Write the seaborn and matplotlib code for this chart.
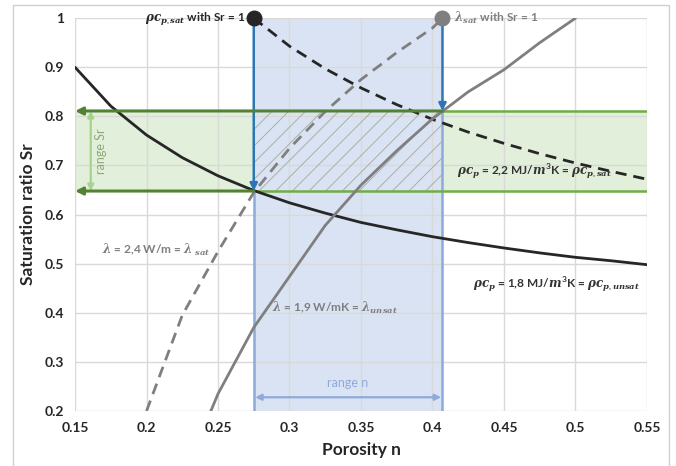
import numpy as np
import pandas as pd
import seaborn as sns
import matplotlib.pyplot as plt
from matplotlib.patches import Rectangle

# porosity grid and read-off curves
n_rho = [0.15, 0.175, 0.2, 0.225, 0.25, 0.275, 0.3, 0.325, 0.35, 0.375,
         0.4, 0.425, 0.45, 0.475, 0.5, 0.525, 0.55]
sr_rho_unsat = [0.900, 0.821, 0.762, 0.716, 0.679, 0.649, 0.624, 0.603, 0.584,
                0.569, 0.555, 0.543, 0.532, 0.522, 0.513, 0.506, 0.498]
n_rho_sat = [0.275, 0.3, 0.325, 0.35, 0.375, 0.4, 0.425, 0.45, 0.475, 0.5, 0.525, 0.55]
sr_rho_sat = [1.0, 0.943, 0.897, 0.858, 0.824, 0.794, 0.768, 0.745, 0.724,
              0.705, 0.688, 0.672]
n_lam_sat = [0.2, 0.225, 0.25, 0.275, 0.3, 0.325, 0.35, 0.375, 0.4, 0.407]
sr_lam_sat = [0.2, 0.395, 0.525, 0.645, 0.735, 0.81, 0.875, 0.93, 0.98, 1.0]
n_lam_unsat = [0.245, 0.25, 0.275, 0.3, 0.325, 0.35, 0.375, 0.4, 0.425, 0.45, 0.475, 0.5]
sr_lam_unsat = [0.2, 0.235, 0.37, 0.474, 0.578, 0.66, 0.73, 0.795, 0.85, 0.895, 0.95, 1.0]

n_range = [0.275, 0.407]
sr_range = [0.648, 0.811]

x_ticks = [0.15, 0.2, 0.25, 0.3, 0.35, 0.4, 0.45, 0.5, 0.55]
x_labels = ["0.15", "0.2", "0.25", "0.3", "0.35", "0.4", "0.45", "0.5", "0.55"]
y_ticks = [0.2, 0.3, 0.4, 0.5, 0.6, 0.7, 0.8, 0.9, 1.0]
y_labels = ["0.2", "0.3", "0.4", "0.5", "0.6", "0.7", "0.8", "0.9", "1"]

sns.set_theme(style="whitegrid")
plt.rcParams['font.family'] = ['Lato', 'DejaVu Sans']
plt.rcParams['mathtext.fontset'] = 'custom'
plt.rcParams['mathtext.it'] = 'DejaVu Serif:italic:bold'
plt.rcParams['mathtext.rm'] = 'Lato:bold'
plt.rcParams['mathtext.bf'] = 'DejaVu Serif:bold'
plt.rcParams['hatch.linewidth'] = 0.7

DARK = '#262626'
GREY = '#7f7f7f'
BLUE = '#2e75b6'
LBLUE = '#8eaadb'
DGREEN = '#548235'
MGREEN = '#70ad47'
LGREEN = '#a9d18e'

fig = plt.figure(figsize=(6.76, 4.66), dpi=100)
ax = fig.add_axes([0.111, 0.118, 0.846, 0.843])

# shaded ranges
ax.axhspan(sr_range[0], sr_range[1], color='#e2efda', zorder=0)
ax.axvspan(n_range[0], n_range[1], color='#dae3f3', zorder=0.5)
ax.add_patch(Rectangle((n_range[0], sr_range[0]), n_range[1] - n_range[0],
                       sr_range[1] - sr_range[0], fill=False, hatch='//',
                       edgecolor='#a9b0a4', linewidth=0, zorder=0.6))

# curves
sns.lineplot(x=n_rho, y=sr_rho_unsat, color=DARK, lw=2, ax=ax, zorder=3)
sns.lineplot(x=n_rho_sat, y=sr_rho_sat, color=DARK, lw=2, ax=ax, zorder=3,
             linestyle=(0, (4, 2.5)))
sns.lineplot(x=n_lam_sat, y=sr_lam_sat, color=GREY, lw=2, ax=ax, zorder=3,
             linestyle=(0, (4, 2.5)))
sns.lineplot(x=n_lam_unsat, y=sr_lam_unsat, color=GREY, lw=2, ax=ax, zorder=3)

# blue vertical lines
ax.plot([n_range[0]] * 2, [0.2, sr_range[0]], color=LBLUE, lw=1.8, zorder=2)
ax.plot([n_range[1]] * 2, [0.2, sr_range[1]], color=LBLUE, lw=1.8, zorder=2)
for xv, yv in [(n_range[0], sr_range[0]), (n_range[1], sr_range[1])]:
    ax.annotate('', xy=(xv, yv), xytext=(xv, 1.0),
                arrowprops=dict(arrowstyle='-|>', color=BLUE, lw=1.8,
                                mutation_scale=11, shrinkA=0, shrinkB=0), zorder=4)

# green horizontal lines
ax.plot([n_range[0], 0.55], [sr_range[0]] * 2, color=MGREEN, lw=1.8, zorder=2)
ax.plot([n_range[1], 0.55], [sr_range[1]] * 2, color=MGREEN, lw=1.8, zorder=2)
for xv, yv in [(n_range[0], sr_range[0]), (n_range[1], sr_range[1])]:
    ax.annotate('', xy=(0.15, yv), xytext=(xv, yv),
                arrowprops=dict(arrowstyle='-|>', color=DGREEN, lw=2.2,
                                mutation_scale=11, shrinkA=0, shrinkB=0), zorder=4)

# range arrows
ax.annotate('', xy=(0.161, sr_range[1]), xytext=(0.161, sr_range[0]),
            arrowprops=dict(arrowstyle='<|-|>', color=LGREEN, lw=1.6,
                            mutation_scale=9, shrinkA=0, shrinkB=0))
ax.text(0.168, 0.73, 'range Sr', rotation=90, color='#8aa979', fontsize=9,
        ha='center', va='center')
ax.annotate('', xy=(n_range[0], 0.228), xytext=(n_range[1], 0.228),
            arrowprops=dict(arrowstyle='<|-|>', color=LBLUE, lw=1.6,
                            mutation_scale=9, shrinkA=1, shrinkB=1))
ax.text(0.341, 0.258, 'range n', color=LBLUE, fontsize=9, ha='center', va='center')

# end dots
ax.scatter([n_range[0]], [1.0], s=110, color=DARK, zorder=5, clip_on=False)
ax.scatter([n_range[1]], [1.0], s=110, color=GREY, zorder=5, clip_on=False)

tk = dict(fontsize=8.6, fontweight='bold')
ax.text(0.269, 1.0, r'$\rho c_{p,sat}$ with Sr = 1', ha='right', va='center',
        color=DARK, **tk)
ax.text(0.415, 1.0, r'$\lambda_{sat}$ with Sr = 1', ha='left', va='center',
        color=GREY, **tk)
ax.text(0.471, 0.686, r'$\rho c_p$ = 2,2 MJ/$m^3$K = $\rho c_{p,sat}$',
        ha='center', va='center', color='#333333', **tk)
ax.text(0.207, 0.527, r'$\lambda$ = 2,4 W/m = $\lambda$ $_{sat}$',
        ha='center', va='center', color=GREY, **tk)
ax.text(0.332, 0.409, r'$\lambda$ = 1,9 W/mK = $\lambda_{unsat}$',
        ha='center', va='center', color=GREY, **tk)
ax.text(0.487, 0.456, r'$\rho c_p$ = 1,8 MJ/$m^3$K = $\rho c_{p,unsat}$',
        ha='center', va='center', color='#333333', **tk)

ax.set_xlim(0.15, 0.55)
ax.set_ylim(0.2, 1.0)
ax.set_xticks(x_ticks)
ax.set_xticklabels(x_labels, fontsize=10, fontweight='bold')
ax.set_yticks(y_ticks)
ax.set_yticklabels(y_labels, fontsize=10, fontweight='bold')
ax.tick_params(length=0, pad=8)
ax.grid(True, color='#d9d9d9', lw=1)
for s in ax.spines.values():
    s.set_visible(False)
ax.set_xlabel('Porosity n', fontsize=12.5, fontweight='bold', labelpad=6)
ax.set_ylabel('Saturation ratio Sr', fontsize=12.5, fontweight='bold', labelpad=6)

# outer frame
fig.add_artist(Rectangle((0.019, -0.05), 0.971, 1.039, fill=False,
                         edgecolor='#d0d0d0', lw=1, transform=fig.transFigure))

fig.savefig('out.png', dpi=100)
